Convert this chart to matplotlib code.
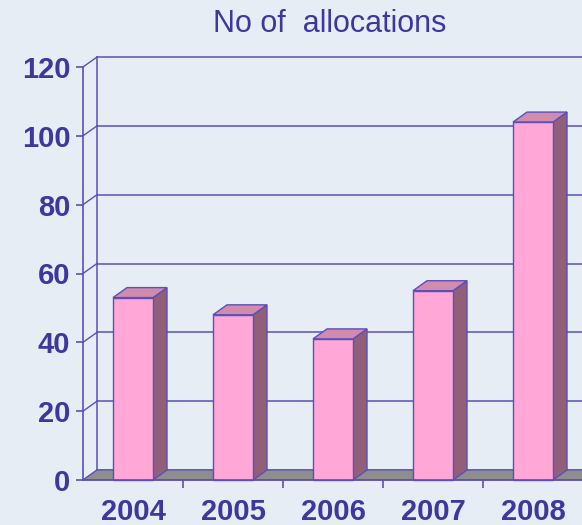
import matplotlib.pyplot as plt
from matplotlib.patches import Polygon

years = ['2004', '2005', '2006', '2007', '2008']
allocations = [53, 48, 41, 55, 104]
y_ticks = [0, 20, 40, 60, 80, 100, 120]

bg = '#E6EDF5'
line_c = '#5B50B8'
text_c = '#3F369E'
front_c = '#FFA8D8'
side_c = '#915F78'
top_c = '#D18BAE'
floor_c = '#8E8E8E'

fig = plt.figure(figsize=(5.82, 5.25), dpi=100, facecolor=bg)
# axes placed in pixels so the 3d box lines up with the picture
ax = fig.add_axes([83 / 582, 45 / 525, 500 / 582, 413 / 525])
ax.set_facecolor('none')
ax.set_xlim(0, 5)
ax.set_ylim(0, 120)

dx = 0.14   # depth offset, category units
dy = 2.9    # depth offset, value units

# back wall gridlines and left wall
for v in y_ticks:
    ax.plot([dx, 5 + dx], [v + dy, v + dy], color=line_c, lw=1.1, zorder=1, clip_on=False)
    ax.plot([0, dx], [v, v + dy], color=line_c, lw=1.0, zorder=1, clip_on=False)
ax.plot([dx, dx], [dy, 120 + dy], color=line_c, lw=1.1, zorder=1, clip_on=False)

# floor
ax.add_patch(Polygon([(0, 0), (5, 0), (5 + dx, dy), (dx, dy)], closed=True,
                     facecolor=floor_c, edgecolor=line_c, lw=0.8, zorder=2, clip_on=False))

# bars
for i, v in enumerate(allocations):
    x0, x1 = i + 0.3, i + 0.7
    side = [(x1, 0), (x1 + dx, dy), (x1 + dx, v + dy), (x1, v)]
    top = [(x0, v), (x1, v), (x1 + dx, v + dy), (x0 + dx, v + dy)]
    front = [(x0, 0), (x1, 0), (x1, v), (x0, v)]
    for pts, fc in [(side, side_c), (top, top_c), (front, front_c)]:
        ax.add_patch(Polygon(pts, closed=True, facecolor=fc, edgecolor=line_c,
                             lw=1.0, zorder=3, clip_on=False))

for s in ['top', 'right']:
    ax.spines[s].set_visible(False)
for s in ['left', 'bottom']:
    ax.spines[s].set_color(line_c)
    ax.spines[s].set_linewidth(1.2)
    ax.spines[s].set_zorder(4)

ax.set_yticks(y_ticks)
ax.tick_params(axis='y', colors=line_c, length=5, width=1.2, pad=4,
               labelcolor=text_c, labelsize=21)
for lab in ax.get_yticklabels():
    lab.set_fontweight('bold')
    lab.set_family('Liberation Sans')

ax.set_xticks([1, 2, 3, 4])
ax.set_xticklabels([])
ax.tick_params(axis='x', which='major', colors=line_c, length=6, width=1.2)
ax.set_xticks([i + 0.5 for i in range(len(years))], minor=True)
ax.set_xticklabels(years, minor=True, fontsize=21, fontweight='bold',
                   color=text_c, family='Liberation Sans')
ax.tick_params(axis='x', which='minor', length=0, pad=13)

fig.text(330 / 582, 1 - 24 / 525, 'No of  allocations', ha='center', va='center',
         fontsize=22, color=text_c, family='Liberation Sans')

fig.savefig('out.png', dpi=100, facecolor=bg)
